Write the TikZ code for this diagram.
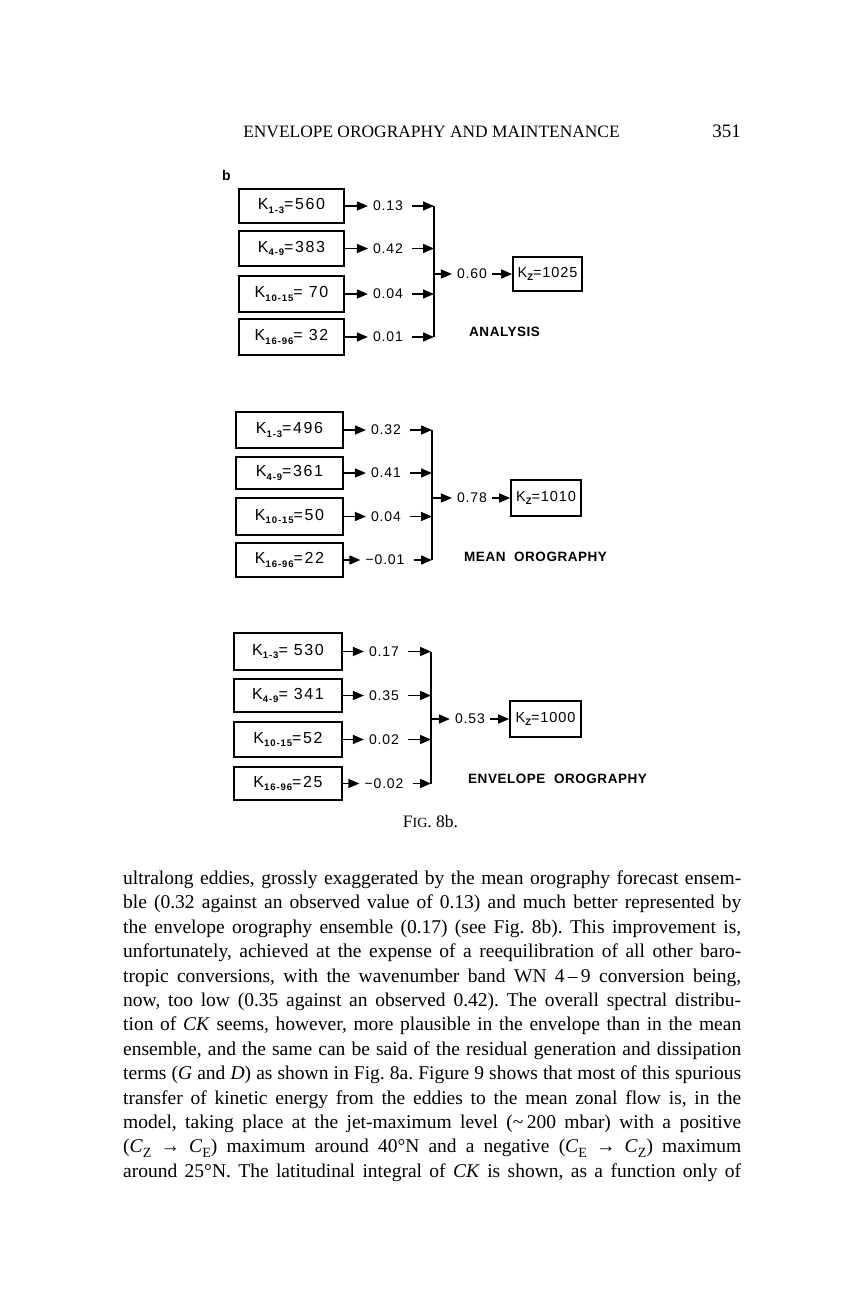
\documentclass[tikz,border=0pt]{standalone}
\usepackage{fontspec}
\usepackage{graphicx}
\setmainfont{Liberation Serif}
\newfontfamily\dg[LetterSpace=6]{Liberation Sans}
\newfontfamily\dgk[LetterSpace=10]{Liberation Sans}
\newfontfamily\dglab[LetterSpace=4]{Liberation Sans}
\usetikzlibrary{arrows.meta}
\newcommand\ksub[1]{\raisebox{-3.5pt}{\fontsize{9.5}{10}\selectfont\bfseries #1}}
\newcommand\tsub[1]{\raisebox{-0.22em}{\scalebox{0.72}{#1}}}
\tikzset{
  kbox/.style={draw, line width=1.7pt, inner sep=0pt, font=\dgk\fontsize{16}{18}\selectfont},
  zbox/.style={draw, line width=1.7pt, inner sep=0pt, font=\dg\fontsize{14.5}{16}\selectfont},
  val/.style={inner xsep=5pt, inner ysep=0pt, font=\dg\fontsize{14}{16}\selectfont},
  arr/.style={line width=1.4pt, -{Triangle[length=11pt,width=9pt]}},
  vline/.style={line width=1.4pt},
  lab/.style={font=\dglab\bfseries\fontsize{13.5}{16}\selectfont, anchor=west, inner sep=0pt},
  body/.style={anchor=base west, inner sep=0pt, font=\fontsize{19.5}{24}\selectfont},
  head/.style={anchor=base, inner sep=0pt, font=\fontsize{17.4}{20}\selectfont}
}
\frenchspacing
\begin{document}
\begin{tikzpicture}[x=1pt,y=-1pt]
\path[use as bounding box, fill=white] (0,0) rectangle (864,1296);

% header
\node[head] (hdr) at (431.5,137) {ENVELOPE OROGRAPHY AND MAINTENANCE};
\node[head, anchor=base east, font=\fontsize{19}{22}\selectfont] (pg) at (741,137) {351};
\node[inner sep=0pt, font=\dg\bfseries\fontsize{14}{16}\selectfont] (b) at (226.5,175) {b};

% ---------- panel 1: analysis ----------
\node[kbox, minimum width=105pt, minimum height=34pt] (a1) at (291.5,206) {K\ksub{1-3}=560};
\node[kbox, minimum width=105pt, minimum height=35pt] (a2) at (291.5,248.5) {K\ksub{4-9}=383};
\node[kbox, minimum width=105pt, minimum height=36pt] (a3) at (291.5,294) {K\ksub{10-15}= 70};
\node[kbox, minimum width=105pt, minimum height=36pt] (a4) at (291.5,337) {K\ksub{16-96}= 32};
\node[val] (va1) at (388,206) {0.13};
\node[val] (va2) at (388,248.5) {0.42};
\node[val] (va3) at (388,294) {0.04};
\node[val] (va4) at (388,337) {0.01};
\coordinate (ja1) at (434,206);
\coordinate (ja2) at (434,248.5);
\coordinate (ja3) at (434,294);
\coordinate (ja4) at (434,337);
\coordinate (jam) at (434,274);
\foreach \i in {1,2,3,4}{
  \draw[arr] (a\i) -- (va\i);
  \draw[arr, shorten <=4pt] (va\i) -- (ja\i);
}
\draw[vline] (ja1) -- (ja4);
\node[val] (vam) at (472,274) {0.60};
\node[zbox, minimum width=69pt, minimum height=34pt] (kza) at (547.5,274) {K\ksub{Z}=1025};
\draw[arr] (jam) -- (vam);
\draw[arr] (vam) -- (kza);
\node[lab] (la) at (469,332) {ANALYSIS};

% ---------- panel 2: mean orography ----------
\node[kbox, minimum width=107pt, minimum height=36pt] (m1) at (289.5,430) {K\ksub{1-3}=496};
\node[kbox, minimum width=107pt, minimum height=32pt] (m2) at (289.5,473) {K\ksub{4-9}=361};
\node[kbox, minimum width=107pt, minimum height=37pt] (m3) at (289.5,516.5) {K\ksub{10-15}=50};
\node[kbox, minimum width=107pt, minimum height=34pt] (m4) at (289.5,560) {K\ksub{16-96}=22};
\node[val] (vm1) at (386,430) {0.32};
\node[val] (vm2) at (386,473) {0.41};
\node[val] (vm3) at (386,516.5) {0.04};
\node[val] (vm4) at (385,560) {−0.01};
\coordinate (jm1) at (432,430);
\coordinate (jm2) at (432,473);
\coordinate (jm3) at (432,516.5);
\coordinate (jm4) at (432,560);
\coordinate (jmm) at (432,498);
\foreach \i in {1,2,3,4}{
  \draw[arr] (m\i) -- (vm\i);
  \draw[arr, shorten <=4pt] (vm\i) -- (jm\i);
}
\draw[vline] (jm1) -- (jm4);
\node[val] (vmm) at (472,498) {0.78};
\node[zbox, minimum width=70pt, minimum height=36pt] (kzm) at (546,498) {K\ksub{Z}=1010};
\draw[arr] (jmm) -- (vmm);
\draw[arr] (vmm) -- (kzm);
\node[lab] (lm) at (464,557) {MEAN\ \ OROGRAPHY};

% ---------- panel 3: envelope orography ----------
\node[kbox, minimum width=108pt, minimum height=37pt] (e1) at (288,651.5) {K\ksub{1-3}= 530};
\node[kbox, minimum width=108pt, minimum height=33pt] (e2) at (288,695.5) {K\ksub{4-9}= 341};
\node[kbox, minimum width=108pt, minimum height=35pt] (e3) at (288,739.5) {K\ksub{10-15}=52};
\node[kbox, minimum width=108pt, minimum height=33pt] (e4) at (288,783.5) {K\ksub{16-96}=25};
\node[val] (ve1) at (384,651.5) {0.17};
\node[val] (ve2) at (384,695.5) {0.35};
\node[val] (ve3) at (384,739.5) {0.02};
\node[val] (ve4) at (384,783.5) {−0.02};
\coordinate (je1) at (431,651.5);
\coordinate (je2) at (431,695.5);
\coordinate (je3) at (431,739.5);
\coordinate (je4) at (431,783.5);
\coordinate (jem) at (431,719);
\foreach \i in {1,2,3,4}{
  \draw[arr] (e\i) -- (ve\i);
  \draw[arr, shorten <=4pt] (ve\i) -- (je\i);
}
\draw[vline] (je1) -- (je4);
\node[val] (vem) at (470,719) {0.53};
\node[zbox, minimum width=71pt, minimum height=36pt] (kze) at (545.5,719) {K\ksub{Z}=1000};
\draw[arr] (jem) -- (vem);
\draw[arr] (vem) -- (kze);
\node[lab] (le) at (468,779) {ENVELOPE\ \ OROGRAPHY};

\node[inner sep=0pt, font=\fontsize{17.5}{20}\selectfont] (fig) at (430.5,822) {F{\fontsize{14}{16}\selectfont IG}. 8b.};

% ---------- body text ----------
\foreach \t [count=\i] in {%
 {ultralong eddies, grossly exaggerated by the mean orography forecast ensem-},%
 {ble (0.32 against an observed value of 0.13) and much better represented by},%
 {the envelope orography ensemble (0.17) (see Fig. 8b). This improvement is,},%
 {unfortunately, achieved at the expense of a reequilibration of all other baro-},%
 {tropic conversions, with the wavenumber band WN 4\,–\,9 conversion being,},%
 {now, too low (0.35 against an observed 0.42). The overall spectral distribu-},%
 {tion of \textit{CK} seems, however, more plausible in the envelope than in the mean},%
 {ensemble, and the same can be said of the residual generation and dissipation},%
 {terms (\textit{G} and \textit{D}) as shown in Fig. 8a. Figure 9 shows that most of this spurious},%
 {transfer of kinetic energy from the eddies to the mean zonal flow is, in the},%
 {model, taking place at the jet-maximum level (\textasciitilde\,200 mbar) with a positive},%
 {(\textit{C}\tsub{Z} → \textit{C}\tsub{E}) maximum around 40°N and a negative (\textit{C}\tsub{E} → \textit{C}\tsub{Z}) maximum},%
 {around 25°N. The latitudinal integral of \textit{CK} is shown, as a function only of}}{%
  \node[body] (t\i) at (123,{884.5+24.4*(\i-1)}) {\makebox[618pt][s]{\t\unskip}};
}
\end{tikzpicture}
\end{document}
